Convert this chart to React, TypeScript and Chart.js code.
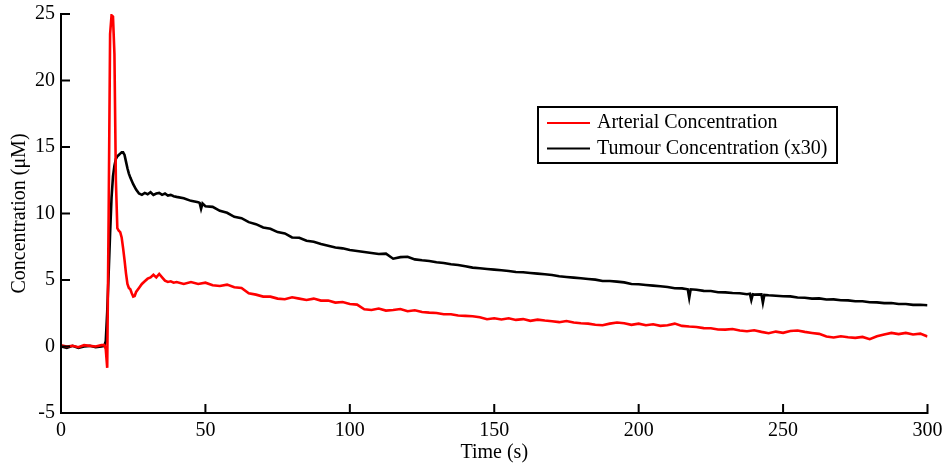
import React, { useEffect, useRef } from 'react';
import { Chart, registerables } from 'chart.js';

Chart.register(...registerables);

const FONT = '"Liberation Serif", "Times New Roman", Times, serif';

const xTicks = [0, 50, 100, 150, 200, 250, 300];
const yTicks = [-5, 0, 5, 10, 15, 20, 25];
const seriesLabels = ['Arterial Concentration', 'Tumour Concentration (x30)'];
const seriesColors = ['#ff0000', '#000000'];
const xTitle = 'Time (s)';
const yTitle = 'Concentration (\u03bcM)';

const arterialTime = [
  0, 2, 4, 6, 8, 10, 12, 14, 15, 15.5,
  16, 16.5, 17, 17.5, 18, 18.5, 19, 19.5, 20, 20.5,
  21, 21.5, 22, 22.5, 23, 23.5, 24, 24.5, 25, 25.5,
  26, 27, 28, 29, 30, 31, 32, 33, 34, 35, 36, 37, 38, 39, 40,
  42.5, 45, 47.5, 50, 52.5, 55, 57.5, 60, 62.5, 65, 67.5, 70, 72.5, 75, 77.5, 80,
  82.5, 85, 87.5, 90, 92.5, 95, 97.5, 100, 102.5, 105, 107.5, 110, 112.5, 115, 117.5, 120,
  122.5, 125, 127.5, 130, 132.5, 135, 137.5, 140, 142.5, 145, 147.5, 150, 152.5, 155, 157.5, 160,
  162.5, 165, 167.5, 170, 172.5, 175, 177.5, 180, 182.5, 185, 187.5, 190, 192.5, 195, 197.5, 200,
  202.5, 205, 207.5, 210, 212.5, 215, 217.5, 220, 222.5, 225, 227.5, 230, 232.5, 235, 237.5, 240,
  242.5, 245, 247.5, 250, 252.5, 255, 257.5, 260, 262.5, 265, 267.5, 270, 272.5, 275, 277.5, 280,
  282.5, 285, 287.5, 290, 292.5, 295, 297.5, 300,
];

const arterialConc = [
  0.1, 0.0, 0.05, -0.05, 0.1, 0.05, 0.0, 0.1, 0.1, -0.2,
  -1.6, 10.0, 23.5, 24.9, 24.8, 22.0, 12.5, 8.9, 8.7, 8.6,
  8.2, 7.4, 6.5, 5.5, 4.7, 4.4, 4.3, 4.0, 3.75, 3.8,
  4.1, 4.4, 4.7, 4.9, 5.1, 5.2, 5.4, 5.2, 5.45, 5.2, 4.95, 4.85, 4.9, 4.8, 4.85,
  4.7, 4.85, 4.7, 4.8, 4.6, 4.55, 4.65, 4.45, 4.4, 4.0, 3.9, 3.75, 3.75, 3.6, 3.55, 3.7,
  3.6, 3.5, 3.6, 3.45, 3.45, 3.3, 3.35, 3.2, 3.15, 2.8, 2.75, 2.85, 2.7, 2.75, 2.82, 2.65,
  2.72, 2.6, 2.55, 2.52, 2.42, 2.42, 2.33, 2.3, 2.28, 2.2, 2.05, 2.12, 2.03, 2.12, 2.0, 2.06,
  1.93, 2.02, 1.95, 1.9, 1.83, 1.92, 1.8, 1.75, 1.72, 1.63, 1.6, 1.72, 1.8, 1.75, 1.63, 1.72,
  1.6, 1.67, 1.55, 1.6, 1.72, 1.55, 1.5, 1.47, 1.38, 1.37, 1.28, 1.27, 1.32, 1.2, 1.15, 1.22,
  1.1, 1.0, 1.12, 1.03, 1.17, 1.2, 1.1, 1.02, 0.95, 0.75, 0.68, 0.77, 0.7, 0.65, 0.72, 0.55,
  0.77, 0.9, 1.02, 0.93, 1.02, 0.9, 0.97, 0.75,
];

const tumourTime = [
  0, 2, 4, 6, 8, 10, 12, 14,
  15, 15.5, 16, 16.5, 17, 17.5, 18, 18.5, 19, 19.5, 20, 20.5, 21, 21.5, 22, 22.5, 23, 23.5, 24,
  25, 26, 27, 28, 29, 30, 31, 32, 33, 34, 35, 36, 37, 38, 39, 40,
  42.5, 45, 47.5, 48, 48.5, 49, 50, 52.5, 55, 57.5, 60, 62.5, 65, 67.5, 70, 72.5, 75, 77.5, 80,
  82.5, 85, 87.5, 90, 92.5, 95, 97.5, 100, 102.5, 105, 107.5, 110, 112.5, 115, 117.5, 120,
  122.5, 125, 127.5, 130, 132.5, 135, 137.5, 140, 142.5, 145, 147.5, 150, 152.5, 155, 157.5, 160,
  162.5, 165, 167.5, 170, 172.5, 175, 177.5, 180, 182.5, 185, 187.5, 190, 192.5, 195, 197.5, 200,
  202.5, 205, 207.5, 210, 212.5, 215, 217, 217.5, 218, 220, 222.5, 225, 227.5, 230, 232.5, 235, 237.5,
  238.5, 239, 239.5, 240, 242.5, 243, 243.5, 245, 247.5, 250, 252.5, 255, 257.5, 260, 262.5, 265,
  267.5, 270, 272.5, 275, 277.5, 280, 282.5, 285, 287.5, 290, 292.5, 295, 297.5, 300,
];

const tumourConc = [
  0.0, -0.1, 0.05, -0.1, 0.0, 0.05, -0.05, 0.0,
  0.05, 0.4, 2.6, 5.5, 8.5, 11.2, 12.8, 13.6, 14.1, 14.3, 14.4, 14.5, 14.6, 14.6, 14.4, 13.9, 13.4, 13.0, 12.7,
  12.2, 11.8, 11.5, 11.4, 11.55, 11.45, 11.6, 11.4, 11.5, 11.55, 11.4, 11.5, 11.35, 11.4, 11.3, 11.25,
  11.15, 10.95, 10.85, 10.8, 10.35, 10.75, 10.55, 10.5, 10.2, 10.05, 9.75, 9.65, 9.35, 9.2, 8.95, 8.85, 8.6, 8.5, 8.2,
  8.18, 7.95, 7.88, 7.7, 7.58, 7.45, 7.38, 7.25, 7.18, 7.1, 7.03, 6.95, 6.98, 6.6, 6.72, 6.75,
  6.55, 6.48, 6.43, 6.33, 6.28, 6.18, 6.13, 6.03, 5.93, 5.88, 5.83, 5.78, 5.73, 5.68, 5.6, 5.58,
  5.53, 5.48, 5.43, 5.38, 5.28, 5.23, 5.18, 5.13, 5.08, 5.03, 4.93, 4.93, 4.88, 4.82, 4.7, 4.68,
  4.63, 4.58, 4.53, 4.48, 4.38, 4.37, 4.3, 3.65, 4.3, 4.27, 4.18, 4.17, 4.08, 4.07, 4.02, 4.0, 3.93,
  3.97, 3.5, 3.92, 3.9, 3.92, 3.3, 3.88, 3.85, 3.82, 3.78, 3.77, 3.68, 3.67, 3.6, 3.62, 3.53,
  3.54, 3.48, 3.47, 3.4, 3.4, 3.33, 3.32, 3.26, 3.27, 3.2, 3.2, 3.13, 3.14, 3.1,
];

const matlabPlugin = {
  id: 'matlabAxes',
  afterDatasetsDraw(chart: any) {
    const { ctx, chartArea: a, scales } = chart;
    ctx.save();
    ctx.strokeStyle = '#000';
    ctx.lineWidth = 2;
    ctx.lineCap = 'butt';
    ctx.beginPath();
    ctx.moveTo(a.left, a.top - 1);
    ctx.lineTo(a.left, a.bottom);
    ctx.lineTo(a.right + 1, a.bottom);
    for (const v of xTicks) {
      const x = scales.x.getPixelForValue(v);
      ctx.moveTo(x, a.bottom);
      ctx.lineTo(x, a.bottom - 9);
    }
    for (const v of yTicks) {
      const y = scales.y.getPixelForValue(v);
      ctx.moveTo(a.left, y);
      ctx.lineTo(a.left + 9, y);
    }
    ctx.stroke();

    // legend box
    const bx = a.left + 477;
    const by = a.top + 93;
    const bw = 299;
    const bh = 56;
    ctx.fillStyle = '#fff';
    ctx.fillRect(bx, by, bw, bh);
    ctx.lineWidth = 2;
    ctx.strokeRect(bx, by, bw, bh);
    ctx.font = '20px ' + FONT;
    ctx.textBaseline = 'middle';
    ctx.textAlign = 'left';
    seriesLabels.forEach((lab, i) => {
      const yy = by + 16 + i * 25.5;
      ctx.strokeStyle = seriesColors[i];
      ctx.lineWidth = 2;
      ctx.beginPath();
      ctx.moveTo(bx + 9, yy);
      ctx.lineTo(bx + 52, yy);
      ctx.stroke();
      ctx.fillStyle = '#000';
      ctx.fillText(lab, bx + 59, yy);
    });
    ctx.restore();
  },
};

export default function App() {
  const ref = useRef<HTMLCanvasElement | null>(null);
  useEffect(() => {
    if (!ref.current) return;
    const chart = new Chart(ref.current, {
      type: 'line',
      data: {
        datasets: [
          {
            label: seriesLabels[0],
            data: arterialTime.map((t, i) => ({ x: t, y: arterialConc[i] })),
            borderColor: seriesColors[0],
            borderWidth: 2.6,
            pointRadius: 0,
            tension: 0,
            fill: false,
          },
          {
            label: seriesLabels[1],
            data: tumourTime.map((t, i) => ({ x: t, y: tumourConc[i] })),
            borderColor: seriesColors[1],
            borderWidth: 2.6,
            pointRadius: 0,
            tension: 0,
            fill: false,
          },
        ],
      },
      options: {
        animation: false,
        responsive: false,
        devicePixelRatio: 1,
        layout: { padding: { left: 0, top: 14, right: 17.5, bottom: 0 } },
        plugins: { legend: { display: false }, tooltip: { enabled: false } },
        scales: {
          x: {
            type: 'linear',
            min: 0,
            max: 300,
            afterBuildTicks: (s: any) => {
              s.ticks = xTicks.map((v) => ({ value: v }));
            },
            afterFit: (s: any) => {
              s.height = 52;
              s.paddingLeft = 0;
              s.paddingRight = 0;
            },
            grid: { display: false, drawTicks: false },
            border: { display: false },
            ticks: {
              color: '#000',
              padding: 6,
              maxRotation: 0,
              font: { family: FONT, size: 20 },
            },
            title: {
              display: true,
              text: xTitle,
              color: '#000',
              font: { family: FONT, size: 20 },
              padding: { top: 0, bottom: 0 },
            },
          },
          y: {
            type: 'linear',
            min: -5,
            max: 25,
            afterBuildTicks: (s: any) => {
              s.ticks = yTicks.map((v) => ({ value: v }));
            },
            afterFit: (s: any) => {
              s.width = 61;
              s.paddingTop = 0;
              s.paddingBottom = 0;
            },
            grid: { display: false, drawTicks: false },
            border: { display: false },
            ticks: {
              color: '#000',
              padding: 6,
              font: { family: FONT, size: 20 },
            },
            title: {
              display: true,
              text: yTitle,
              color: '#000',
              font: { family: FONT, size: 20 },
              padding: { top: 8, bottom: 0 },
            },
          },
        },
      },
      plugins: [matlabPlugin],
    });
    return () => chart.destroy();
  }, []);
  return (
    <div style={{ position: 'absolute', left: 0, top: 0, width: 945, height: 465, background: '#fff' }}>
      <canvas ref={ref} width={945} height={465} style={{ display: 'block', width: 945, height: 465 }} />
    </div>
  );
}
